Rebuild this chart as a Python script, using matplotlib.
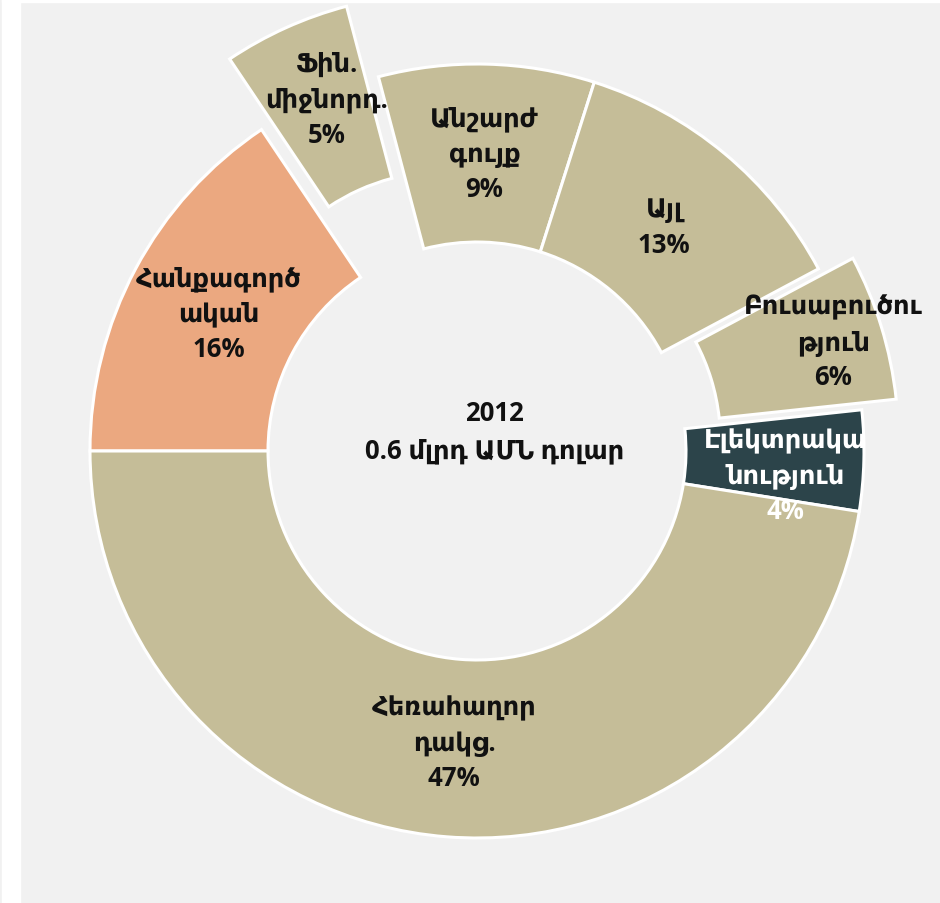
import numpy as np
import matplotlib
matplotlib.use("Agg")
import matplotlib.pyplot as plt
from matplotlib.patches import Rectangle

# ---- data ----
categories = ["Հանքագործ\nական", "Ֆին.\nմիջնորդ.", "Անշարժ\nգույք", "Այլ",
              "Բուսաբուծու\nթյուն", "Էլեկտրակա\nնություն", "Հեռահաղոր\nդակց."]
shares = [15.6, 5.3, 9.0, 12.3, 6.1, 4.2, 47.5]
pct_labels = ["16%", "5%", "9%", "13%", "6%", "4%", "47%"]
center_year = "2012"
center_total = "0.6 մլրդ ԱՄՆ դոլար"

# ---- style ----
TAN = "#c5bd98"
SALMON = "#eba880"
DARK = "#2c444a"
colors = [SALMON, TAN, TAN, TAN, TAN, DARK, TAN]
explode = [0, 0.2, 0, 0, 0.093, 0, 0]
label_r = [0.757, 0.79, 0.77, 0.755, 0.87, 0.80, 0.755]
label_dtheta = [0, -1.5, 0, 0, 0, -3.0, 0]
text_colors = ["#111111"] * 5 + ["white", "#111111"]

plt.rcParams['font.family'] = ['Open Sans', 'DejaVu Sans']

W, H = 940, 904
fig = plt.figure(figsize=(W / 100, H / 100), dpi=100, facecolor="#f1f1f1")
fig.patches.append(Rectangle((2 / W, 0), 18 / W, 1, transform=fig.transFigure,
                             color="white", zorder=0))
fig.patches.append(Rectangle((2 / W, 1 - 3 / H), 1, 3 / H, transform=fig.transFigure,
                             color="white", zorder=0))

ax = fig.add_axes([0, 0, 1, 1])
ax.set_facecolor("none")

R_px = 387.0
cx, cy = 477.0, 452.0
wedges, _ = ax.pie(shares, colors=colors, explode=explode, startangle=180,
                   counterclock=False, radius=1,
                   wedgeprops=dict(width=0.46, edgecolor="white", linewidth=2.2))

for w, cat, pct, lr, dt, tc in zip(wedges, categories, pct_labels, label_r,
                                   label_dtheta, text_colors):
    mid = np.deg2rad((w.theta1 + w.theta2) / 2 + dt)
    x0, y0 = w.center
    ax.text(x0 + lr * np.cos(mid), y0 + lr * np.sin(mid), cat + "\n" + pct,
            ha="center", va="center", fontsize=18.5, fontweight="bold",
            color=tc, linespacing=1.4)

ax.text(0.045, 0.052, center_year + "\n" + center_total, ha="center", va="center",
        fontsize=18.5, fontweight="bold", color="#111111", linespacing=1.5)

ax.set_xlim(-cx / R_px, (W - cx) / R_px)
ax.set_ylim(-(H - cy) / R_px, cy / R_px)
ax.set_aspect("auto")
ax.axis("off")

fig.savefig("out.png", dpi=100, facecolor=fig.get_facecolor())
